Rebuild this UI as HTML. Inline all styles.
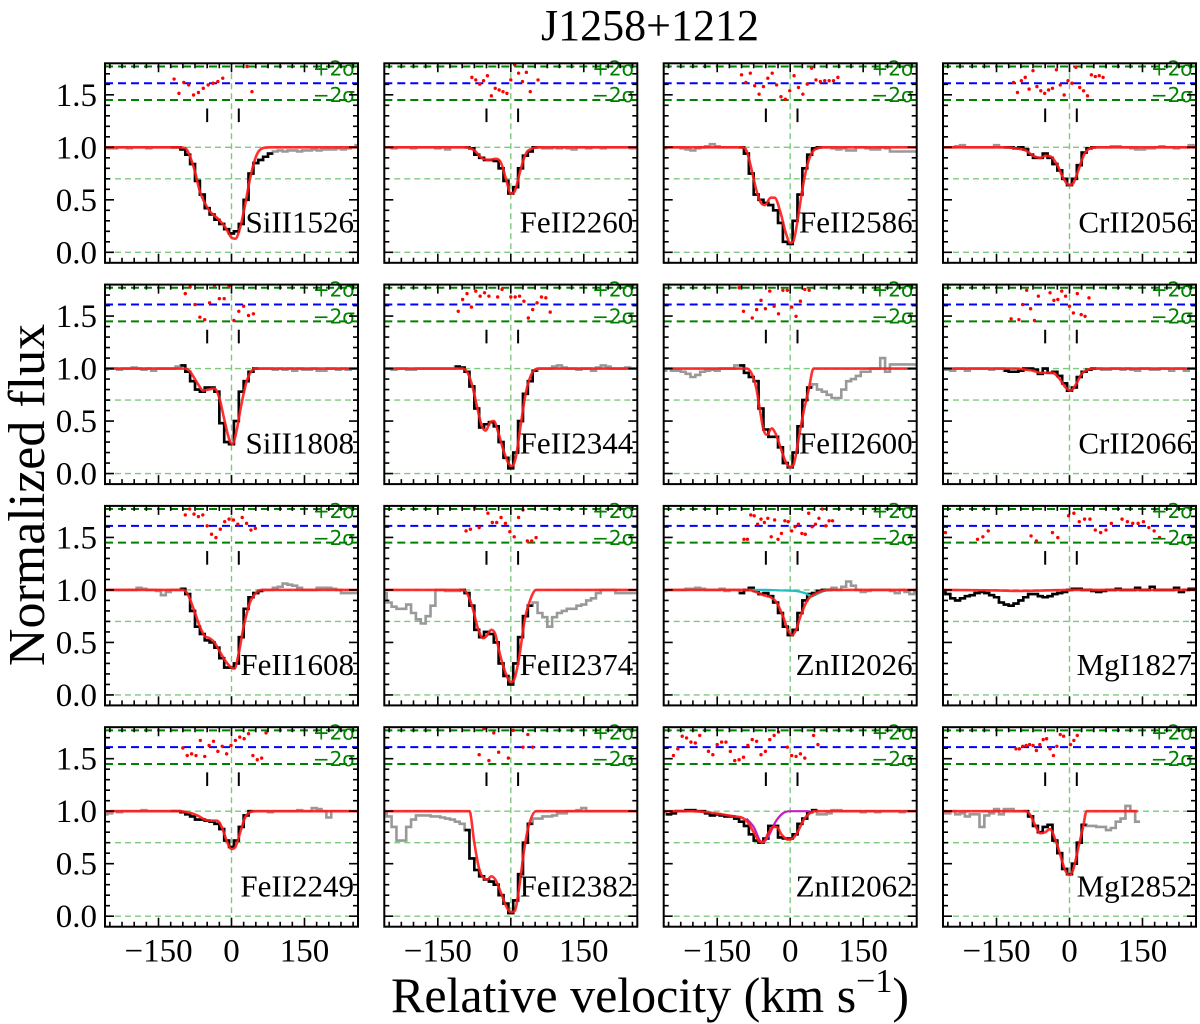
<!DOCTYPE html>
<html><head><meta charset="utf-8"><title>J1258+1212</title>
<style>
html,body{margin:0;padding:0;background:#fff;}
svg{display:block;}
text{font-family:"Liberation Serif","DejaVu Serif",serif;}
</style></head>
<body>
<svg id="fig" xmlns="http://www.w3.org/2000/svg" width="1200" height="1024" viewBox="0 0 1200 1024">
<rect x="0" y="0" width="1200" height="1024" fill="#fff"/>
<text x="650" y="40" style="font-size:44px" text-anchor="middle">J1258+1212</text>
<text x="0" y="0" style="font-size:52px" text-anchor="middle" transform="translate(44,495) rotate(-90)">Normalized flux</text>
<text x="650" y="1012" style="font-size:50px" text-anchor="middle">Relative velocity (km s<tspan dy="-20" style="font-size:34px">−1</tspan><tspan dy="20">)</tspan></text>
<g id="panels"></g>
</svg>
<script>
// ---- data: ion names ----
const ions = ["SiII1526","FeII2260","FeII2586","CrII2056","SiII1808","FeII2344","FeII2600","CrII2066","FeII1608","FeII2374","ZnII2026","MgI1827","FeII2249","FeII2382","ZnII2062","MgI2852"];
const yTicks = [0.0,0.5,1.0,1.5];
const yTickLabels = ["0.0","0.5","1.0","1.5"];
const xTicks = [-150,0,150];
const xTickLabels = ["−150","0","150"];
const componentVel = [-50,15];
// fit ranges [vmin,vmax]
const fitRanges = [[-120,80],[-90,50],[-100,60],[-130,55],[-100,50],[-110,55],[-100,45],[-130,50],[-100,60],[-100,40],[-100,80],[-260,260],[-120,40],[-90,40],[-250,50],[-90,35]];
// spectra: flux at v = -260 + 10*i
const specSiII1526 = [1.0,0.99,0.99,1.0,1.0,0.99,1.0,1.0,1.0,0.99,1.0,1.0,1.0,1.0,1.0, 1.0,0.98,0.93,0.84,0.68,0.55,0.42,0.36,0.31,0.27,0.22,0.18,0.2,0.27,0.5,0.75,0.85,0.88,0.91,0.94,0.96, 0.97,0.96,0.97,0.97,0.96,0.97,0.97,0.98,0.97,0.98,0.98,0.98,0.99,0.98,0.99,1.0,1.02];
const specFeII2260 = [1.0,1.0,0.99,1.0,1.0,1.0,0.99,1.0,1.0,1.0,1.0,0.99,1.0,0.98,1.0,1.0,1.0, 1.0,0.99,0.93,0.9,0.88,0.88,0.87,0.8,0.68,0.56,0.62,0.8,0.92,0.96,1.0, 1.0,0.99,0.99,1.0,0.99,1.0,0.99,0.98,1.0,1.0,0.99,1.0,1.0,0.99,1.0,1.0,1.0,1.0,1.0,0.99,1.0];
const specFeII2586 = [0.99,1.0,1.0,1.0,0.99,0.98,0.97,0.99,1.0,1.01,1.03,1.01,1.0,1.0,1.0,1.0, 1.0,0.94,0.75,0.55,0.5,0.47,0.45,0.4,0.28,0.1,0.08,0.3,0.55,0.8,0.93,0.99,1.0, 1.0,1.0,0.99,0.98,0.99,0.97,0.97,1.0,1.0,0.99,0.98,0.98,1.0,0.99,0.96,0.96,0.96,0.96,0.96,0.96];
const specCrII2056 = [1.0,1.0,1.0,1.01,1.02,1.0,1.0,1.0,1.0,1.0,1.0,1.02,1.0, 1.0,1.0,0.99,1.0,0.98,0.93,0.9,0.9,0.94,0.9,0.84,0.78,0.7,0.64,0.7,0.83,0.95,0.99,1.0, 1.0,1.0,1.0,1.01,1.01,1.0,1.0,0.99,0.98,0.98,0.99,0.99,1.0,1.01,1.0,1.0,0.99,1.0,1.0,1.02,1.0];
const specSiII1808 = [0.99,1.0,1.0,0.99,1.0,1.0,1.01,1.0,0.99,1.0,0.98,1.0,1.0,1.0,1.0,1.02, 1.03,0.97,0.88,0.8,0.78,0.82,0.82,0.78,0.48,0.3,0.28,0.5,0.78,0.88,0.97,1.0, 1.0,1.0,1.0,0.99,1.0,0.99,1.0,0.98,1.0,0.99,0.99,1.0,0.98,0.98,1.0,1.0,0.99,1.0,0.99,1.0,1.0];
const specFeII2344 = [1.0,1.0,0.99,1.0,1.0,0.99,0.99,1.0,1.0,1.0,1.0,1.0,1.0,1.0,1.0, 1.02,1.01,0.97,0.83,0.62,0.44,0.47,0.49,0.45,0.3,0.15,0.05,0.2,0.5,0.76,0.88,0.98, 1.0,1.0,1.0,1.02,1.03,1.01,1.0,1.0,0.99,1.0,1.0,0.98,1.01,1.03,1.02,1.0,1.0,1.0,1.01,1.0,1.0];
const specFeII2600 = [0.98,1.0,0.98,0.98,0.97,0.95,0.92,0.94,0.97,0.98,0.99,0.98,1.0,1.0,1.0,1.03, 1.03,0.96,0.92,0.88,0.62,0.42,0.35,0.35,0.25,0.1,0.06,0.2,0.45,0.7,0.82, 0.85,0.8,0.78,0.75,0.72,0.72,0.8,0.88,0.9,0.93,0.97,0.97,1.0,1.0,1.1,0.97,1.04,1.04,1.04,1.04,1.04,1.04];
const specCrII2066 = [1.0,0.99,0.98,1.0,1.0,0.98,1.0,1.0,1.0,1.0,0.99,1.0,1.0, 0.98,0.97,0.97,0.98,1.0,1.0,0.99,0.95,1.0,0.96,0.97,0.93,0.86,0.79,0.82,0.92,0.97,0.99,1.0, 1.0,0.99,0.99,1.0,1.0,0.99,1.0,0.99,0.98,1.0,1.0,0.99,0.99,1.0,1.0,0.98,1.0,1.0,0.98,1.0,1.0];
const specFeII1608 = [1.0,1.0,1.0,1.0,1.0,1.0,1.0,1.02,1.01,1.0,1.0,0.99,0.95,0.98,1.0,1.0, 1.01,0.96,0.8,0.65,0.58,0.52,0.5,0.45,0.35,0.26,0.26,0.3,0.55,0.82,0.93,0.97,0.99, 1.0,1.0,1.02,1.03,1.06,1.05,1.04,1.02,1.0,1.0,1.0,1.02,1.02,1.02,1.01,1.0,0.97,0.97,0.97,0.97];
const specFeII2374 = [0.97,0.88,0.84,0.82,0.82,0.86,0.78,0.72,0.68,0.75,0.85,1.0,1.0,0.99,0.99,0.99, 1.0,0.97,0.85,0.62,0.55,0.6,0.58,0.5,0.3,0.18,0.1,0.3,0.55,0.75,0.85, 0.88,0.78,0.74,0.65,0.74,0.78,0.8,0.82,0.82,0.85,0.86,0.9,0.92,0.97,1.0,1.0,1.0,0.97,0.97,0.97,0.97,0.97];
const specZnII2026 = [0.99,1.0,1.0,1.0,1.0,1.01,1.01,1.02,1.01,1.0,1.0,1.0,1.01,0.99,1.0,1.0, 0.97,1.0,1.02,0.99,0.96,0.97,0.94,0.88,0.78,0.65,0.57,0.62,0.78,0.9,0.96,0.97,0.99,1.0,1.0, 1.02,1.0,1.03,1.08,1.04,1.0,0.98,0.99,1.0,1.0,1.0,1.0,0.99,0.97,1.0,0.98,0.96,1.0];
const specMgI1827 = [0.99,0.96,0.92,0.9,0.92,0.94,0.95,0.97,0.98,0.97,0.95,0.93,0.88,0.86,0.85,0.87,0.9,0.93,0.96,0.96,0.94,0.93,0.94,0.96,0.97,0.98,1.0,1.01,1.01,1.0,1.0,0.99,0.98,0.99,1.0,1.0,1.01,1.0,1.0,1.0,1.02,1.0,1.0,1.03,1.0,1.0,1.0,1.0,1.02,0.98,1.0,1.01,1.01];
const specFeII2249 = [0.97,0.98,1.0,0.99,1.0,1.0,1.0,1.0,1.01,1.0,1.0,1.0,1.0,1.0, 1.0,1.0,0.99,0.97,0.95,0.92,0.92,0.91,0.9,0.88,0.83,0.72,0.66,0.72,0.85,0.96,1.0, 1.0,1.0,1.0,0.99,1.0,1.0,1.0,1.0,1.0,1.01,1.0,1.0,1.03,1.02,1.0,0.94,1.0,1.0,1.0,1.0,1.0,1.0];
const specFeII2382 = [0.98,0.95,0.85,0.72,0.72,0.85,0.92,0.96,0.96,0.96,0.95,0.95,0.94,0.93,0.92,0.9,0.88, 0.82,0.55,0.44,0.38,0.35,0.33,0.3,0.2,0.12,0.03,0.15,0.4,0.7,0.88, 0.93,0.93,0.95,0.95,0.96,0.98,0.98,1.0,1.0,1.01,1.03,1.0,1.0,1.0,1.0,1.0,1.0,1.0,1.0,1.0,1.0,1.0];
const specZnII2062 = [0.98,0.97,0.98,1.0,1.0,1.01,1.01,1.0,1.0,0.98,0.96,0.97,0.96,0.95,0.95,0.93,0.9,0.86,0.78,0.72,0.7,0.74,0.86,0.86,0.75,0.74,0.74,0.78,0.88,0.93,0.99,1.01,0.97,0.97,0.98,1.01,1.01,1.0,1.0,1.0,1.0,0.99,1.0,1.0,0.99,1.0,1.0,1.0,1.0,0.99,1.0,1.0,1.0];
const specMgI2852 = [1.0,0.98,1.0,0.97,0.98,0.95,0.97,0.97,0.85,0.96,0.98,1.02,0.97,1.02,1.02,1.0,1.0, 1.0,0.95,0.86,0.8,0.85,0.87,0.72,0.6,0.45,0.4,0.5,0.7,0.87, 0.86,0.86,0.85,0.85,0.82,0.84,0.9,0.93,1.05,1.0,0.9];
// model knots [v, flux]
const modelSiII1526 = [[-260,1],[-110,1],[-95,0.99],[-77,0.8],[-65,0.58],[-46,0.4],[-28,0.32],[-13,0.24],[0,0.14],[8,0.13],[18,0.24],[27,0.43],[39,0.72],[51,0.92],[63,0.99],[80,1],[260,1]];
const modelFeII2260 = [[-260,1],[-90,1],[-75,0.97],[-60,0.9],[-45,0.88],[-30,0.89],[-20,0.85],[-10,0.7],[0,0.56],[8,0.58],[18,0.75],[30,0.93],[45,0.99],[60,1],[260,1]];
const modelFeII2586 = [[-260,1],[-100,1],[-90,0.97],[-80,0.8],[-70,0.6],[-60,0.47],[-52,0.45],[-40,0.52],[-32,0.52],[-20,0.38],[-10,0.2],[0,0.09],[6,0.1],[15,0.3],[25,0.6],[35,0.83],[45,0.95],[55,0.99],[70,1],[260,1]];
const modelCrII2056 = [[-260,1],[-130,1],[-110,0.99],[-90,0.97],[-75,0.92],[-60,0.9],[-48,0.92],[-38,0.91],[-25,0.83],[-12,0.7],[0,0.64],[8,0.66],[18,0.78],[30,0.93],[42,0.99],[55,1],[260,1]];
const modelSiII1808 = [[-260,1],[-95,1],[-85,0.97],[-70,0.86],[-58,0.79],[-48,0.8],[-35,0.81],[-25,0.72],[-15,0.52],[-5,0.33],[2,0.28],[10,0.4],[20,0.65],[30,0.86],[40,0.97],[50,1],[260,1]];
const modelFeII2344 = [[-260,1],[-100,1],[-90,0.97],[-80,0.85],[-70,0.65],[-60,0.46],[-52,0.41],[-42,0.49],[-35,0.5],[-25,0.38],[-15,0.22],[-5,0.1],[2,0.07],[10,0.15],[20,0.45],[30,0.75],[40,0.92],[50,0.99],[60,1],[260,1]];
const modelFeII2600 = [[-260,1],[-90,1],[-80,0.96],[-70,0.82],[-62,0.6],[-55,0.42],[-48,0.37],[-38,0.43],[-30,0.38],[-20,0.25],[-10,0.12],[0,0.06],[8,0.1],[18,0.35],[28,0.6],[38,0.8],[48,1],[260,1]];
const modelCrII2066 = [[-260,1],[-110,1],[-90,0.99],[-75,0.98],[-60,0.96],[-45,0.96],[-35,0.96],[-20,0.9],[-8,0.82],[2,0.79],[12,0.84],[25,0.95],[38,0.99],[50,1],[260,1]];
const modelFeII1608 = [[-260,1],[-100,1],[-90,0.96],[-78,0.82],[-65,0.65],[-55,0.56],[-45,0.54],[-35,0.5],[-25,0.42],[-12,0.32],[0,0.26],[6,0.25],[15,0.4],[25,0.65],[38,0.88],[50,0.97],[62,1],[260,1]];
const modelFeII2374 = [[-260,1],[-98,1],[-88,0.95],[-78,0.82],[-68,0.64],[-57,0.54],[-50,0.56],[-40,0.62],[-32,0.58],[-22,0.38],[-10,0.2],[0,0.12],[8,0.16],[18,0.38],[28,0.7],[38,0.88],[52,1],[260,1]];
const modelZnII2026 = [[-260,1],[-85,1],[-70,0.98],[-55,0.95],[-40,0.93],[-28,0.88],[-15,0.75],[-5,0.62],[4,0.57],[12,0.62],[22,0.76],[35,0.9],[50,0.96],[65,0.99],[85,1],[260,1]];
const modelMgI1827 = [[-260,1],[-150,0.995],[-100,0.99],[-50,0.995],[0,1],[260,1]];
const modelFeII2249 = [[-260,1],[-110,1],[-90,0.99],[-70,0.96],[-55,0.92],[-42,0.91],[-30,0.91],[-20,0.85],[-10,0.72],[0,0.64],[8,0.66],[18,0.8],[28,0.94],[38,0.99],[50,1],[260,1]];
const modelFeII2382 = [[-260,1],[-85,1],[-75,0.7],[-65,0.45],[-55,0.36],[-48,0.35],[-40,0.38],[-32,0.35],[-20,0.22],[-10,0.1],[0,0.04],[8,0.05],[18,0.3],[28,0.65],[38,0.88],[52,1],[260,1]];
const modelZnII2062 = [[-260,1],[-200,1],[-170,0.99],[-140,0.97],[-115,0.95],[-100,0.94],[-88,0.9],[-75,0.8],[-62,0.71],[-55,0.71],[-45,0.79],[-35,0.85],[-28,0.85],[-18,0.78],[-5,0.73],[5,0.74],[15,0.8],[28,0.92],[40,0.98],[50,1],[260,1]];
const modelMgI2852 = [[-260,1],[-90,1],[-80,0.96],[-70,0.86],[-60,0.79],[-50,0.8],[-40,0.83],[-30,0.74],[-20,0.6],[-10,0.45],[0,0.39],[8,0.45],[18,0.65],[28,0.85],[35,1],[140,1]];
// extra component curves
const cyanZnII2026 = [[-85,1],[-50,1],[-20,0.995],[10,0.99],[30,0.97],[45,0.94],[55,0.96],[70,0.99],[90,1]];
const magentaZnII2062 = [[-90,0.93],[-75,0.85],[-58,0.7],[-45,0.76],[-30,0.9],[-15,0.98],[0,1],[40,1]];
// residuals in sigma units: [startVel, step, values]
const resSiII1526 = [-118,10,[0.5,-1.2,0.1,-0.2,-1.4,-1.1,-0.6,-0.2,0,0.2,0.6,null,null,null,null,2.0,-1.0]];
const resFeII2260 = [-80,8,[0.7,0.4,-0.1,0.3,0.9,-1.5,-0.6,-0.8,-1.0,-1.2,0.4,2.2,1.2,0.2,1.3,-1.0,null,0.4]];
const resFeII2586 = [-100,9,[1.0,0.1,1.2,-0.3,-1.3,-0.4,0.6,1.2,-0.2,-1.6,-1.9,-0.9,0.9,-0.5,-1.3,-0.1,1.8,0.4,0.2,0.3,0.3,0.3,0.7]];
const resCrII2056 = [-115,8,[0.1,-1.1,0.3,0.7,-0.7,1.5,-0.4,-0.9,-1.2,-0.8,-0.6,1.6,-0.2,-1.4,0.3,0.0,1.9,-0.5,-0.9,-1.5,1.0,0.8,0.9,0.7]];
const resSiII1808 = [-95,10,[1.3,2.1,0.0,-1.5,-1.8,0.2,2.3,0.7,0.7,2.2,-1.9,-0.8,-0.2,-1.3,-1.1]];
const resFeII2344 = [-108,9,[-0.8,0.6,1.3,-0.3,1.6,1.0,1.4,1.0,null,0.9,1.8,null,0.9,0.9,1.0,0.4,-1.6,-0.6,0.2,0.9,0.8,-0.9]];
const resFeII2600 = [-105,9,[2.0,-0.8,null,-1.6,-0.6,0.5,-0.5,1.6,-0.2,-1.1,1.7,1.7,-0.3,-1.4,0.4,1.8,1.7]];
const resCrII2066 = [-120,8,[-1.7,null,-1.8,0.0,1.7,-0.5,-1.9,1.0,null,null,1.4,0.5,0.6,1.6,1.0,-0.2,-1.0,1.3,-1.2,-1.4,0.8]];
const resFeII1608 = [-95,9,[1.3,2.0,1.4,1.1,1.3,0.0,-1.0,-1.4,-0.4,0.5,0.8,0.7,0.2,1.0,0.3,-0.5,-0.3]];
const resFeII2374 = [-92,9,[-0.6,-0.4,2.1,-0.2,null,1.5,0.4,0.4,1.0,0.3,-0.7,-1.3,1.0,1.9,-1.8,-1.8,-1.4]];
const resZnII2026 = [-95,7,[-1.6,-1.6,1.3,1.2,0.2,0.8,0.4,0.9,-1.3,0.7,-1.6,-0.9,0.6,0.5,-0.6,-0.1,0.2,-0.9,-1.0,1.5,-0.1,0.2,0.9,2.0,0.0,0.6,0.6]];
const resMgI1827 = [-255,11,[-0.8,null,null,null,null,null,-1.6,-1.3,-0.6,null,null,null,null,null,null,null,-1.2,-1.8,null,null,-0.8,-1.4,null,1.2,1.5,0.5,0.8,0.8,-0.5,-0.8,-0.5,0.3,null,0.8,0.5,0.3,0.3,0.5,-0.2,-0.6,-1.4]];
const resFeII2249 = [-100,9,[-0.1,-1.0,-0.8,-1.0,0.8,-1.1,0.2,0.7,-0.5,0.1,-0.8,0.2,0.8,1.2,1.0,1.6,-1.0,-1.5,-1.3,1.7]];
const resFeII2382 = [-65,10,[-0.9,2.2,-1.6,1.7,-0.6,null,-1.3,2.0,null,0.0,1.5,0.0]];
const resZnII2062 = [-240,9,[-1.0,-0.2,1.3,1.1,0.6,0.5,1.4,null,-0.5,-0.9,0.3,0.6,0.6,-0.5,-1.6,-1.5,-1.2,0.2,0.9,0.7,-0.9,-0.5,0.9,1.4,1.8,null,0.0,-1.0,-1.1,-0.8,-1.3,null,1.4,0.3]];
const resMgI2852 = [-110,7,[-0.2,-0.2,0.1,0.2,0.3,0.2,-0.4,0.3,0.9,1.0,-0.2,-1.0,0.1,1.5,1.3,null,0.3,0.8,1.4]];

const specs = [specSiII1526,specFeII2260,specFeII2586,specCrII2056,specSiII1808,specFeII2344,specFeII2600,specCrII2066,specFeII1608,specFeII2374,specZnII2026,specMgI1827,specFeII2249,specFeII2382,specZnII2062,specMgI2852];
const models = [modelSiII1526,modelFeII2260,modelFeII2586,modelCrII2056,modelSiII1808,modelFeII2344,modelFeII2600,modelCrII2066,modelFeII1608,modelFeII2374,modelZnII2026,modelMgI1827,modelFeII2249,modelFeII2382,modelZnII2062,modelMgI2852];
const resids = [resSiII1526,resFeII2260,resFeII2586,resCrII2056,resSiII1808,resFeII2344,resFeII2600,resCrII2066,resFeII1608,resFeII2374,resZnII2026,resMgI1827,resFeII2249,resFeII2382,resZnII2062,resMgI2852];

// ---- layout ----
const NS = "http://www.w3.org/2000/svg";
const V0 = -260, V1 = 260, F0 = -0.1, F1 = 1.8;
const colX = [105, 384.3, 663.7, 943];
const rowY = [63.3, 284.6, 505.9, 727.2];
const PW = 253, PH = 199.5;
const SPEC_V0 = -260, SPEC_DV = 10;
const RES_BASE = 1.61, RES_SIG = 0.08;

function el(tag, attrs, parent) {
  const e = document.createElementNS(NS, tag);
  for (const k in attrs) e.setAttribute(k, attrs[k]);
  if (parent) parent.appendChild(e);
  return e;
}
// monotone cubic (Fritsch-Carlson) through pixel points, x increasing
function smoothPath(pts) {
  const n = pts.length;
  if (n < 2) return "";
  const dx = [], s = [];
  for (let i = 0; i < n - 1; i++) { dx.push(pts[i+1][0] - pts[i][0]); s.push((pts[i+1][1] - pts[i][1]) / dx[i]); }
  const m = new Array(n);
  m[0] = s[0]; m[n-1] = s[n-2];
  for (let i = 1; i < n - 1; i++) m[i] = (s[i-1] * s[i] <= 0) ? 0 : (s[i-1] + s[i]) / 2;
  for (let i = 0; i < n - 1; i++) {
    if (s[i] === 0) { m[i] = 0; m[i+1] = 0; continue; }
    const a = m[i] / s[i], b = m[i+1] / s[i], h = a*a + b*b;
    if (h > 9) { const t = 3 / Math.sqrt(h); m[i] = t*a*s[i]; m[i+1] = t*b*s[i]; }
  }
  let d = "M" + pts[0][0].toFixed(2) + "," + pts[0][1].toFixed(2);
  for (let i = 0; i < n - 1; i++) {
    const h = dx[i] / 3;
    d += " C" + (pts[i][0] + h).toFixed(2) + "," + (pts[i][1] + m[i]*h).toFixed(2) + " " + (pts[i+1][0] - h).toFixed(2) + "," + (pts[i+1][1] - m[i+1]*h).toFixed(2) + " " + pts[i+1][0].toFixed(2) + "," + pts[i+1][1].toFixed(2);
  }
  return d;
}

const root = document.getElementById("panels");
const defs = el("defs", {}, root);

ions.forEach((ion, k) => {
  const r = Math.floor(k / 4), c = k % 4;
  const x0 = colX[c], y0 = rowY[r];
  const xs = v => x0 + (v - V0) / (V1 - V0) * PW;
  const ys = f => y0 + (F1 - f) / (F1 - F0) * PH;

  const cp = el("clipPath", {id: "clip" + k}, defs);
  el("rect", {x: x0, y: y0, width: PW, height: PH}, cp);

  const g = el("g", {}, root);
  
  
  const gc = el("g", {"clip-path": "url(#clip" + k + ")"}, g);

  [0, 0.7, 1.0].forEach(f => {
    const l = el("line", {x1: x0, x2: x0 + PW, y1: ys(f), y2: ys(f), stroke: "#7fc87f", "stroke-width": 1.4, "stroke-dasharray": "6,4"}, gc);
    
    
  });
  const vl = el("line", {x1: xs(0), x2: xs(0), y1: y0, y2: y0 + PH, stroke: "#7fc87f", "stroke-width": 1.4, "stroke-dasharray": "6,4"}, gc);
  
  
  [RES_BASE + 2 * RES_SIG, RES_BASE - 2 * RES_SIG].forEach(f => {
    const l = el("line", {x1: x0, x2: x0 + PW, y1: ys(f), y2: ys(f), stroke: "#008000", "stroke-width": 2, "stroke-dasharray": "8,5"}, gc);
    
    
  });
  const bl = el("line", {x1: x0, x2: x0 + PW, y1: ys(RES_BASE), y2: ys(RES_BASE), stroke: "#0000ff", "stroke-width": 2, "stroke-dasharray": "8,5"}, gc);
  
  

  const sp = specs[k], fr = fitRanges[k];
  let dAll = "", dFit = "";
  sp.forEach((f, i) => {
    const v = SPEC_V0 + SPEC_DV * i;
    dAll += (i === 0 ? "M" : "L") + xs(v - SPEC_DV / 2).toFixed(2) + "," + ys(f).toFixed(2) + " L" + xs(v + SPEC_DV / 2).toFixed(2) + "," + ys(f).toFixed(2) + " ";
    if (v >= fr[0] && v <= fr[1]) dFit += (dFit === "" ? "M" : "L") + xs(v - SPEC_DV / 2).toFixed(2) + "," + ys(f).toFixed(2) + " L" + xs(v + SPEC_DV / 2).toFixed(2) + "," + ys(f).toFixed(2) + " ";
  });
  const gp = el("path", {d: dAll, fill: "none", stroke: "#999", "stroke-width": 2.6}, gc);
  
  
  const kp = el("path", {d: dFit, fill: "none", stroke: "#000", "stroke-width": 2.6}, gc);
  
  

  if (ion === "ZnII2026") {
    const cy = el("path", {d: smoothPath(cyanZnII2026.map(p => [xs(p[0]), ys(p[1])])), fill: "none", stroke: "#20c0c0", "stroke-width": 2.2}, gc);
    
    
  }
  if (ion === "ZnII2062") {
    const mg = el("path", {d: smoothPath(magentaZnII2062.map(p => [xs(p[0]), ys(p[1])])), fill: "none", stroke: "#c020c0", "stroke-width": 2.2}, gc);
    
    
  }
  const mp = el("path", {d: smoothPath(models[k].map(p => [xs(p[0]), ys(p[1])])), fill: "none", stroke: "#ff1a1a", "stroke-width": 2.6, "stroke-opacity": 0.9}, gc);
  
  

  const rs = resids[k];
  rs[2].forEach((rv, i) => {
    if (rv === null) return;
    const dot = el("circle", {cx: xs(rs[0] + rs[1] * i), cy: ys(RES_BASE + RES_SIG * rv), r: 1.7, fill: "#ff0000"}, gc);
    
    
  });

  componentVel.forEach(v => {
    const m = el("line", {x1: xs(v), x2: xs(v), y1: ys(1.37), y2: ys(1.24), stroke: "#000", "stroke-width": 2}, gc);
    
    
  });

  const t1 = el("text", {x: x0 + PW - 3, y: ys(1.685), fill: "#008000", "text-anchor": "end", style: "font-size:20px;font-family:'DejaVu Sans',sans-serif"}, g);
  t1.textContent = "+2σ";
  
  
  const t2 = el("text", {x: x0 + PW - 3, y: ys(1.43), fill: "#008000", "text-anchor": "end", style: "font-size:20px;font-family:'DejaVu Sans',sans-serif"}, g);
  t2.textContent = "−2σ";
  
  

  const lab = el("text", {x: x0 + PW - 4, y: ys(0.19), "text-anchor": "end", style: "font-size:31px"}, g);
  lab.textContent = ion;
  
  

  let td = "";
  for (let f = -0.1; f <= 1.801; f += 0.1) {
    const fr2 = Math.round(f * 10) / 10;
    const major = Math.abs(fr2 * 2 - Math.round(fr2 * 2)) < 1e-6;
    const L = major ? 9 : 5, y = ys(fr2);
    td += "M" + x0 + "," + y + " h" + L + " M" + (x0 + PW) + "," + y + " h" + (-L) + " ";
  }
  for (let v = -250; v <= 250; v += 25) {
    const major = v % 150 === 0;
    const L = major ? 9 : 5, x = xs(v);
    td += "M" + x + "," + (y0 + PH) + " v" + (-L) + " M" + x + "," + y0 + " v" + L + " ";
  }
  const tk = el("path", {d: td, stroke: "#000", "stroke-width": 1.6, fill: "none"}, g);
  
  

  const fr3 = el("rect", {x: x0, y: y0, width: PW, height: PH, fill: "none", stroke: "#000", "stroke-width": 2}, g);
  
  

  if (c === 0) {
    yTicks.forEach((f, i) => {
      const t = el("text", {x: x0 - 8, y: ys(f) + 11, "text-anchor": "end", style: "font-size:33px"}, g);
      t.textContent = yTickLabels[i];
      
      
    });
  }
  if (r === 3) {
    xTicks.forEach((v, i) => {
      const t = el("text", {x: xs(v), y: y0 + PH + 35, "text-anchor": "middle", style: "font-size:33px"}, g);
      t.textContent = xTickLabels[i];
      
      
    });
  }
});
</script>
</body></html>
